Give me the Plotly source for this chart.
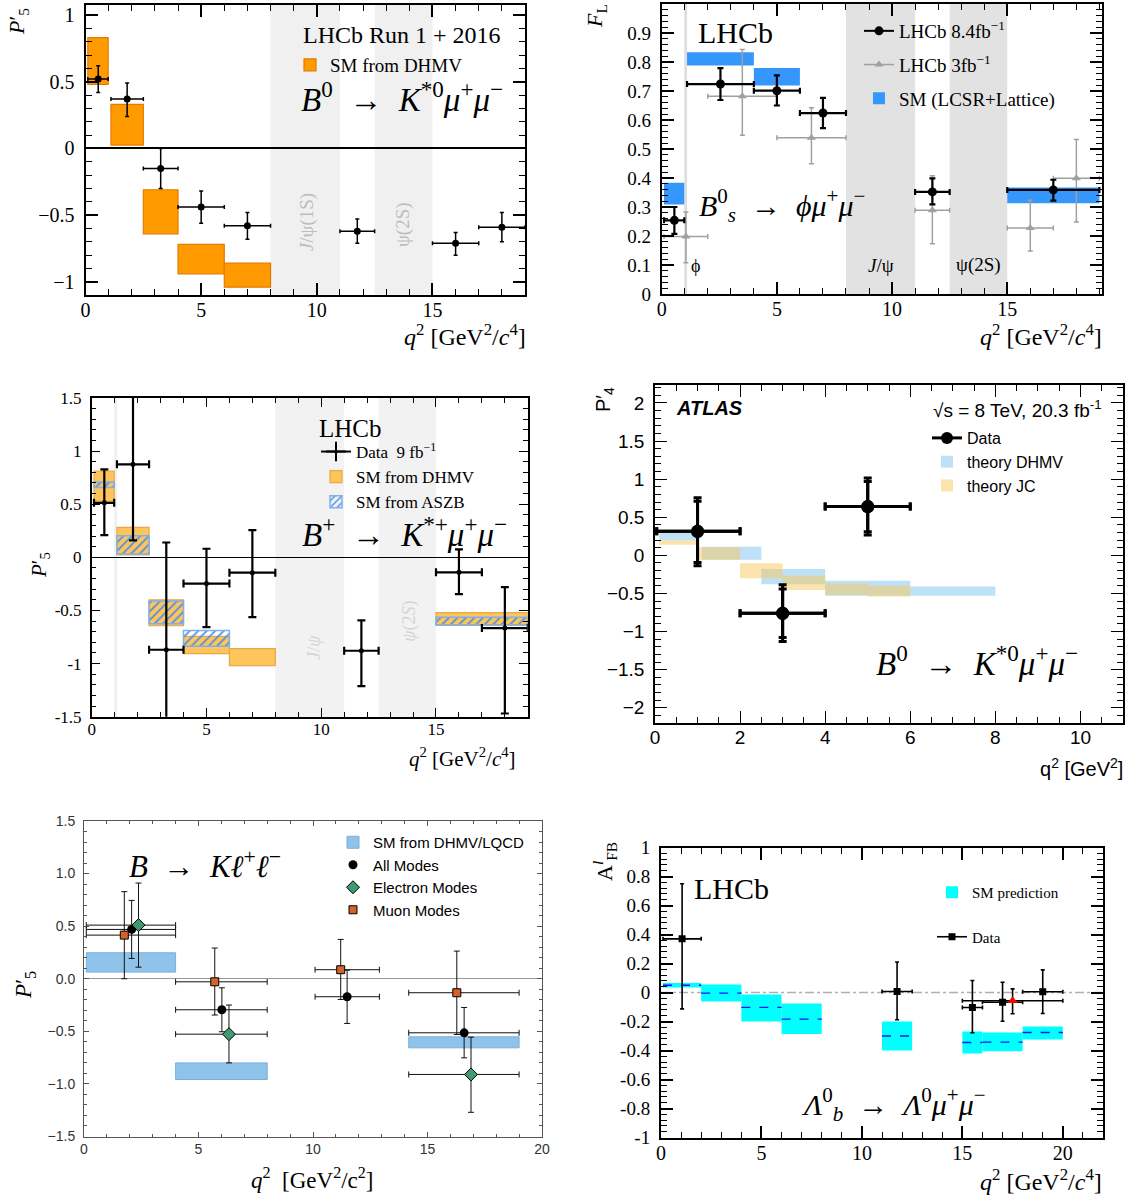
import plotly.graph_objects as go

W, H = 1131, 1195
SERIF = "Liberation Serif"
SANS = "Liberation Sans"
ARROW = "\u2002→\u2002"

# ======================= DATA =======================
# Panel 1 : LHCb P5' (Run 1 + 2016), B0 -> K*0 mu mu
p1_sm_lo = [0.1, 1.1, 2.5, 4.0, 6.0]
p1_sm_hi = [0.98, 2.5, 4.0, 6.0, 8.0]
p1_sm_min = [0.48, 0.025, -0.64, -0.94, -1.04]
p1_sm_max = [0.83, 0.33, -0.31, -0.72, -0.86]
p1_q2 = [0.55, 1.8, 3.25, 5.0, 7.0, 11.75, 16.0, 18.0]
p1_lo = [0.1, 1.1, 2.5, 4.0, 6.0, 11.0, 15.0, 17.0]
p1_hi = [0.98, 2.5, 4.0, 6.0, 8.0, 12.5, 17.0, 19.0]
p1_val = [0.52, 0.37, -0.15, -0.44, -0.58, -0.62, -0.71, -0.59]
p1_up = [0.10, 0.12, 0.15, 0.12, 0.10, 0.09, 0.08, 0.11]
p1_dn = [0.10, 0.13, 0.15, 0.12, 0.10, 0.09, 0.09, 0.11]

veto_phi = [0.98, 1.1]
veto_jpsi = [8.0, 11.0]
veto_psi2s = [12.5, 15.0]

# Panel 2 : LHCb F_L, Bs -> phi mu mu
p2_sm_lo = [0.1, 1.1, 4.0, 15.0]
p2_sm_hi = [0.98, 4.0, 6.0, 19.0]
p2_sm_min = [0.309, 0.788, 0.719, 0.313]
p2_sm_max = [0.384, 0.834, 0.779, 0.367]
p2a_q2 = [0.55, 2.55, 5.0, 7.0, 11.75, 17.0]
p2a_lo = [0.1, 1.1, 4.0, 6.0, 11.0, 15.0]
p2a_hi = [0.98, 4.0, 6.0, 8.0, 12.5, 19.0]
p2a_val = [0.254, 0.724, 0.701, 0.624, 0.352, 0.359]
p2a_up = [0.046, 0.055, 0.053, 0.052, 0.047, 0.035]
p2a_dn = [0.047, 0.055, 0.051, 0.052, 0.043, 0.037]
p2b_q2 = [1.05, 3.5, 6.5, 11.75, 16.0, 18.0]
p2b_lo = [0.1, 2.0, 5.0, 11.0, 15.0, 17.0]
p2b_hi = [2.0, 5.0, 8.0, 12.5, 17.0, 19.0]
p2b_val = [0.198, 0.682, 0.539, 0.289, 0.228, 0.399]
p2b_up = [0.085, 0.161, 0.103, 0.119, 0.095, 0.134]
p2b_dn = [0.090, 0.135, 0.090, 0.116, 0.080, 0.151]
p2_yticks = [0, 0.1, 0.2, 0.3, 0.4, 0.5, 0.6, 0.7, 0.8, 0.9, 1.0]
p2_ylabels = ["0", "0.1", "0.2", "0.3", "0.4", "0.5", "0.6", "0.7", "0.8", "0.9", "1"]

# Panel 3 : LHCb P5', B+ -> K*+ mu mu
p3_dh_lo = [0.1, 1.1, 2.5, 4.0, 6.0, 15.0]
p3_dh_hi = [0.98, 2.5, 4.0, 6.0, 8.0, 19.0]
p3_dh_min = [0.529, 0.022, -0.644, -0.907, -1.02, -0.64]
p3_dh_max = [0.813, 0.282, -0.40, -0.744, -0.86, -0.52]
p3_as_lo = [0.1, 1.1, 2.5, 4.0, 15.0]
p3_as_hi = [0.98, 2.5, 4.0, 6.0, 19.0]
p3_as_min = [0.657, 0.031, -0.625, -0.838, -0.635]
p3_as_max = [0.71, 0.203, -0.41, -0.688, -0.563]
p3_q2 = [0.55, 1.8, 3.25, 5.0, 7.0, 11.75, 16.0, 18.0]
p3_lo = [0.1, 1.1, 2.5, 4.0, 6.0, 11.0, 15.0, 17.0]
p3_hi = [0.98, 2.5, 4.0, 6.0, 8.0, 12.5, 17.0, 19.0]
p3_val = [0.513, 0.876, -0.87, -0.247, -0.144, -0.879, -0.141, -0.666]
p3_up = [0.316, 0.70, 1.01, 0.328, 0.40, 0.285, 0.216, 0.386]
p3_dn = [0.303, 0.716, 0.75, 0.41, 0.419, 0.334, 0.206, 0.804]
p3_yticks = [-1.5, -1, -0.5, 0, 0.5, 1, 1.5]
p3_ylabels = ["-1.5", "-1", "-0.5", "0", "0.5", "1", "1.5"]

# Panel 4 : ATLAS P4'
p4_q2 = [1.0, 3.0, 5.0]
p4_lo = [0.04, 2.0, 4.0]
p4_hi = [2.0, 4.0, 6.0]
p4_val = [0.315, -0.76, 0.64]
p4_tot_up = [0.44, 0.375, 0.375]
p4_tot_dn = [0.45, 0.37, 0.373]
p4_stat_up = [0.394, 0.32, 0.33]
p4_stat_dn = [0.407, 0.317, 0.33]
p4_dh_lo = [0.1, 1.1, 2.5, 4.0, 6.0]
p4_dh_hi = [0.98, 2.5, 4.0, 6.0, 8.0]
p4_dh_min = [0.20, -0.057, -0.38, -0.53, -0.53]
p4_dh_max = [0.30, 0.114, -0.18, -0.333, -0.41]
p4_jc_lo = [0.1, 1.0, 2.0, 3.0, 4.0, 5.0]
p4_jc_hi = [1.0, 2.0, 3.0, 4.0, 5.0, 6.0]
p4_jc_min = [0.14, -0.057, -0.30, -0.455, -0.52, -0.54]
p4_jc_max = [0.20, 0.105, -0.105, -0.267, -0.37, -0.40]

# Panel 5 : Belle P5'
p5_sm_lo = [0.1, 4.0, 14.18]
p5_sm_hi = [4.0, 8.0, 19.0]
p5_sm_min = [0.063, -0.958, -0.657]
p5_sm_max = [0.247, -0.80, -0.552]
p5_all_q2 = [2.08, 6.02, 11.49, 16.6]
p5_all_lo = [0.1, 4.0, 10.09, 14.18]
p5_all_hi = [4.0, 8.0, 12.9, 19.0]
p5_all_val = [0.469, -0.295, -0.171, -0.514]
p5_all_up = [0.276, 0.209, 0.253, 0.241]
p5_all_dn = [0.276, 0.209, 0.254, 0.238]
p5_el_q2 = [2.38, 6.33, 16.9]
p5_el_lo = [0.1, 4.0, 14.18]
p5_el_hi = [4.0, 8.0, 19.0]
p5_el_val = [0.51, -0.527, -0.91]
p5_el_up = [0.40, 0.277, 0.355]
p5_el_dn = [0.40, 0.273, 0.36]
p5_mu_q2 = [1.76, 5.71, 11.21, 16.28]
p5_mu_lo = [0.1, 4.0, 10.09, 14.18]
p5_mu_hi = [4.0, 8.0, 12.9, 19.0]
p5_mu_val = [0.415, -0.029, 0.086, -0.133]
p5_mu_up = [0.413, 0.321, 0.288, 0.396]
p5_mu_dn = [0.415, 0.316, 0.283, 0.397]

# Panel 6 : LHCb A_FB^l, Lambda_b
p6_sm_lo = [0.1, 2.0, 4.0, 6.0, 11.0, 15.0, 16.0, 18.0]
p6_sm_hi = [2.0, 4.0, 6.0, 8.0, 12.5, 16.0, 18.0, 20.0]
p6_sm_min = [0.035, -0.062, -0.20, -0.287, -0.40, -0.42, -0.405, -0.324]
p6_sm_max = [0.065, 0.055, -0.014, -0.076, -0.20, -0.269, -0.276, -0.234]
p6_sm_mid = [0.05, -0.005, -0.103, -0.184, -0.30, -0.345, -0.342, -0.276]
p6_q2 = [1.05, 11.75, 15.5, 17.0, 19.0]
p6_lo = [0.1, 11.0, 15.0, 16.0, 18.0]
p6_hi = [2.0, 12.5, 16.0, 18.0, 20.0]
p6_val = [0.37, 0.007, -0.103, -0.067, 0.005]
p6_up = [0.38, 0.203, 0.186, 0.138, 0.151]
p6_dn = [0.483, 0.195, 0.175, 0.131, 0.15]
p6w_q2 = [17.5]
p6w_lo = [15.0]
p6w_hi = [20.0]
p6w_val = [-0.057]
p6w_up = [0.082]
p6w_dn = [0.09]
p6_yticks = [-1, -0.8, -0.6, -0.4, -0.2, 0, 0.2, 0.4, 0.6, 0.8, 1]
p6_ylabels = ["-1", "-0.8", "-0.6", "-0.4", "-0.2", "0", "0.2", "0.4", "0.6", "0.8", "1"]


# ======================= HELPERS =======================
def px(v):
    return v / W


def py(v):
    return 1 - v / H


def boxes(lo, hi, ymin, ymax, xa, ya, color, lcolor=None, lw=0, name=None,
          legend="legend", showlegend=False, pattern=None, group=None, rank=1):
    marker = dict(color=color, line=dict(color=lcolor or color, width=lw))
    if pattern:
        marker["pattern"] = pattern
    return go.Bar(
        x=[(a + b) / 2 for a, b in zip(lo, hi)],
        y=[t - b for b, t in zip(ymin, ymax)],
        base=ymin,
        width=[b - a for a, b in zip(lo, hi)],
        xaxis=xa, yaxis=ya, marker=marker, name=name,
        showlegend=showlegend, legend=legend, legendgroup=group,
        legendrank=rank, hoverinfo="skip")


def points(x, lo, hi, val, up, dn, xa, ya, symbol, size, color, ecolor,
           lw, cap, mline=None, name=None, legend="legend", showlegend=False,
           group=None, rank=1):
    return go.Scatter(
        x=x, y=val, mode="markers", xaxis=xa, yaxis=ya,
        marker=dict(symbol=symbol, size=size, color=color,
                    line=mline or dict(width=0)),
        error_x=dict(type="data", symmetric=False,
                     array=[h - v for h, v in zip(hi, x)],
                     arrayminus=[v - l for v, l in zip(x, lo)],
                     color=ecolor, thickness=lw, width=cap),
        error_y=dict(type="data", symmetric=False, array=up, arrayminus=dn,
                     color=ecolor, thickness=lw, width=cap),
        name=name, showlegend=showlegend, legend=legend, legendgroup=group,
        legendrank=rank, hoverinfo="skip")


def legend_entry(xa, ya, name, legend, group, rank, mode, marker, line):
    return go.Scatter(x=[None], y=[None], xaxis=xa, yaxis=ya, mode=mode,
                      marker=marker, line=line, name=name, legend=legend,
                      legendgroup=group, legendrank=rank, showlegend=True)


def axis(l, r, rng, anchor, font, size, dtick=None, minor=None, tickvals=None,
         ticktext=None, lw=2, color="black", ticklen=12, minorlen=6,
         tickwidth=1.5, standoff=None, tickformat=None, fontcolor="black",
         horizontal=True):
    if horizontal:
        dom = [px(l), px(r)]
        if standoff is None:
            standoff = -4
    else:
        dom = [py(r), py(l)]
        if standoff is None:
            standoff = 5
    d = dict(domain=dom, range=rng, anchor=anchor, showline=True,
             linecolor=color, linewidth=lw, mirror="allticks",
             ticks="inside", ticklen=ticklen, tickwidth=tickwidth,
             tickcolor=color, showgrid=False, zeroline=False,
             automargin=False,
             tickfont=dict(family=font, size=size, color=fontcolor),
             ticklabelstandoff=standoff, fixedrange=True,
             minor=dict(ticks="inside", ticklen=minorlen,
                        tickwidth=max(1, tickwidth - 0.3), tickcolor=color,
                        dtick=minor, tick0=0, showgrid=False))
    if tickvals is not None:
        d.update(tickmode="array", tickvals=tickvals, ticktext=ticktext)
    else:
        d.update(dtick=dtick, tick0=0)
    if tickformat:
        d["tickformat"] = tickformat
    return d


def ann(text, x, y, size, family=SERIF, color="black", xanchor="left",
        yanchor="middle", angle=0, xref="paper", yref="paper"):
    return dict(text=text,
                x=px(x) if xref == "paper" else x,
                y=py(y) if yref == "paper" else y,
                xref=xref, yref=yref, showarrow=False, textangle=angle,
                font=dict(size=size, family=family, color=color),
                xanchor=xanchor, yanchor=yanchor)


def band(xa, ya, rng, color):
    return dict(type="rect", xref=xa, yref=ya + " domain", x0=rng[0],
                x1=rng[1], y0=0, y1=1, fillcolor=color,
                line=dict(width=0), layer="below")


QTITLE = "<i>q</i><sup>2</sup> [GeV<sup>2</sup>/<i>c</i><sup>4</sup>]"
traces = []
shapes = []
annots = []

# ======================= PANEL 1 =======================
shapes += [band("x", "y", veto_jpsi, "#f0f0f0"),
           band("x", "y", veto_psi2s, "#f0f0f0")]
traces.append(boxes(p1_sm_lo, p1_sm_hi, p1_sm_min, p1_sm_max, "x", "y",
                    "#ff9a00", "#e27c00", 1.2, name="SM from DHMV",
                    legend="legend", showlegend=True))
traces.append(points(p1_q2, p1_lo, p1_hi, p1_val, p1_up, p1_dn, "x", "y",
                     "circle", 7, "black", "black", 1.5, 2))
annots += [
    ann("LHCb Run 1 + 2016", 301, 35, 24),
    ann("<i>B</i><sup>0</sup>" + ARROW + "<i>K</i><sup>*0</sup><i>μ</i><sup>+</sup><i>μ</i><sup>−</sup>",
        505, 97, 33, xanchor="right"),
    ann("<i>J</i>/ψ(1S)", 9.55, -0.55, 19, color="#bdbdbd", xanchor="center",
        angle=-90, xref="x", yref="y"),
    ann("ψ(2S)", 13.75, -0.57, 19, color="#bdbdbd", xanchor="center",
        angle=-90, xref="x", yref="y"),
    ann("<i>P</i>′<sub>5</sub>", 18, 22, 22, xanchor="center", angle=-90),
    ann(QTITLE, 528, 335, 24, xanchor="right"),
]

# ======================= PANEL 2 =======================
shapes += [band("x2", "y2", veto_phi, "#dedede"),
           band("x2", "y2", veto_jpsi, "#e2e2e2"),
           band("x2", "y2", veto_psi2s, "#e2e2e2")]
traces.append(boxes(p2_sm_lo, p2_sm_hi, p2_sm_min, p2_sm_max, "x2", "y2",
                    "#3597fb", name="SM (LCSR+Lattice)", legend="legend2",
                    showlegend=True, group="sm2", rank=3))
traces.append(points(p2b_q2, p2b_lo, p2b_hi, p2b_val, p2b_up, p2b_dn, "x2",
                     "y2", "triangle-up", 8, "#a0a0a0", "#a0a0a0", 1.5, 2.5))
traces.append(points(p2a_q2, p2a_lo, p2a_hi, p2a_val, p2a_up, p2a_dn, "x2",
                     "y2", "circle", 9, "black", "black", 2.2, 3))
traces.append(legend_entry("x2", "y2", "LHCb 8.4fb<sup>−1</sup>", "legend2",
                           "a2", 1, "lines+markers",
                           dict(symbol="circle", size=9, color="black"),
                           dict(color="black", width=2)))
traces.append(legend_entry("x2", "y2", "LHCb 3fb<sup>−1</sup>", "legend2",
                           "b2", 2, "lines+markers",
                           dict(symbol="triangle-up", size=8, color="#a0a0a0"),
                           dict(color="#a0a0a0", width=1.5)))
annots += [
    ann("LHCb", 696, 33, 30),
    ann("<i>B</i><sup>0</sup><sub><i>s</i></sub>" + ARROW + "<i>ϕμ</i><sup>+</sup><i>μ</i><sup>−</sup>",
        697, 206, 30),
    ann("ϕ", 1.45, 0.095, 18, xanchor="center", xref="x2", yref="y2"),
    ann("<i>J</i>/ψ", 9.5, 0.1, 19, xanchor="center", xref="x2", yref="y2"),
    ann("ψ(2S)", 13.75, 0.1, 19, xanchor="center", xref="x2", yref="y2"),
    ann("<i>F</i><sub>L</sub>", 596, 16, 22, xanchor="center", angle=-90),
    ann(QTITLE, 1104, 335, 24, xanchor="right"),
]

# ======================= PANEL 3 =======================
shapes += [band("x3", "y3", veto_phi, "#f0f0f0"),
           band("x3", "y3", veto_jpsi, "#f2f2f2"),
           band("x3", "y3", veto_psi2s, "#f2f2f2")]
traces.append(boxes(p3_dh_lo, p3_dh_hi, p3_dh_min, p3_dh_max, "x3", "y3",
                    "#fdc55c", "#e9a844", 1.2, name="SM from DHMV",
                    legend="legend3", showlegend=True, group="dh3", rank=2))
traces.append(boxes(p3_as_lo, p3_as_hi, p3_as_min, p3_as_max, "x3", "y3",
                    "#4d8fe6", "#7eb0ee", 1.5, name="SM from ASZB",
                    legend="legend3", showlegend=True, group="as3", rank=3,
                    pattern=dict(shape="/", size=6, solidity=0.3,
                                 fillmode="replace")))
traces.append(points(p3_q2, p3_lo, p3_hi, p3_val, p3_up, p3_dn, "x3", "y3",
                     "circle", 5, "black", "black", 2.2, 4))
traces.append(legend_entry("x3", "y3", "Data  9 fb<sup>−1</sup>", "legend3",
                           "d3", 1, "lines+markers",
                           dict(symbol="cross-thin", size=14, color="black",
                                line=dict(color="black", width=2)),
                           dict(color="black", width=2)))
annots += [
    ann("LHCb", 317, 428, 25),
    ann("<i>B</i><sup>+</sup>" + ARROW + "<i>K</i><sup>*+</sup><i>μ</i><sup>+</sup><i>μ</i><sup>−</sup>",
        509, 532, 33, xanchor="right"),
    ann("<i>J</i>/<i>ψ</i>", 9.65, -0.85, 18, color="#d4d4d4",
        xanchor="center", angle=-90, xref="x3", yref="y3"),
    ann("<i>ψ</i>(2<i>S</i>)", 13.85, -0.6, 18, color="#d4d4d4",
        xanchor="center", angle=-90, xref="x3", yref="y3"),
    ann("<i>P</i>′<sub>5</sub>", 40, 565, 21, xanchor="center", angle=-90),
    ann("<i>q</i><sup>2</sup> [GeV<sup>2</sup>/<i>c</i><sup>4</sup>]", 518, 757,
        21, xanchor="right"),
]

# ======================= PANEL 4 =======================
traces.append(boxes(p4_dh_lo, p4_dh_hi, p4_dh_min, p4_dh_max, "x4", "y4",
                    "rgba(125,195,240,0.5)", name="theory DHMV",
                    legend="legend4", showlegend=True, group="dh4", rank=2))
traces.append(boxes(p4_jc_lo, p4_jc_hi, p4_jc_min, p4_jc_max, "x4", "y4",
                    "rgba(245,200,90,0.5)", name="theory JC",
                    legend="legend4", showlegend=True, group="jc4", rank=3))
traces.append(points(p4_q2, p4_lo, p4_hi, p4_val, p4_tot_up, p4_tot_dn, "x4",
                     "y4", "circle", 13, "black", "black", 3, 4))
traces.append(points(p4_q2, p4_lo, p4_hi, p4_val, p4_stat_up, p4_stat_dn,
                     "x4", "y4", "circle", 13, "black", "black", 3, 4))
traces.append(legend_entry("x4", "y4", "Data", "legend4", "d4", 1,
                           "lines+markers",
                           dict(symbol="circle", size=12, color="black"),
                           dict(color="black", width=3)))
annots += [
    ann("<b><i>ATLAS</i></b>", 674, 408, 20, family=SANS),
    ann("√s = 8 TeV, 20.3 fb<sup>-1</sup>", 1104, 409, 19, family=SANS,
        xanchor="right"),
    ann("<i>B</i><sup>0</sup>" + ARROW + "<i>K</i><sup>*0</sup><i>μ</i><sup>+</sup><i>μ</i><sup>−</sup>",
        1080, 661, 33, xanchor="right"),
    ann("P′<sub>4</sub>", 604, 400, 20, family=SANS, xanchor="center",
        angle=-90),
    ann("q<sup>2</sup> [GeV<sup>2</sup>]", 1125, 767, 20, family=SANS,
        xanchor="right"),
]

# ======================= PANEL 5 =======================
traces.append(boxes(p5_sm_lo, p5_sm_hi, p5_sm_min, p5_sm_max, "x5", "y5",
                    "#8fc3ea", "#78b0dc", 1, name="SM from DHMV/LQCD",
                    legend="legend5", showlegend=True, group="sm5", rank=1))
traces.append(points(p5_all_q2, p5_all_lo, p5_all_hi, p5_all_val, p5_all_up,
                     p5_all_dn, "x5", "y5", "circle", 9, "black", "#111111",
                     1, 3, name="All Modes", legend="legend5",
                     showlegend=True, group="a5", rank=2))
traces.append(points(p5_el_q2, p5_el_lo, p5_el_hi, p5_el_val, p5_el_up,
                     p5_el_dn, "x5", "y5", "diamond", 10, "#3f9a72", "#111111",
                     1, 3, mline=dict(color="black", width=1),
                     name="Electron Modes", legend="legend5",
                     showlegend=True, group="e5", rank=3))
traces.append(points(p5_mu_q2, p5_mu_lo, p5_mu_hi, p5_mu_val, p5_mu_up,
                     p5_mu_dn, "x5", "y5", "square", 8, "#d4622a", "#111111",
                     1, 3, mline=dict(color="black", width=1),
                     name="Muon Modes", legend="legend5",
                     showlegend=True, group="m5", rank=4))
annots += [
    ann("<i>B</i>" + ARROW + "<i>Kℓ</i><sup>+</sup><i>ℓ</i><sup>−</sup>", 127, 864, 31),
    ann("<i>P</i>′<sub>5</sub>", 25, 985, 23, xanchor="center", angle=-90),
    ann("<i>q</i><sup>2</sup>  [GeV<sup>2</sup>/c<sup>2</sup>]", 312, 1178, 23,
        xanchor="center"),
]

# ======================= PANEL 6 =======================
traces.append(boxes(p6_sm_lo, p6_sm_hi, p6_sm_min, p6_sm_max, "x6", "y6",
                    "#00ffff", name="SM prediction", legend="legend6",
                    showlegend=True, group="sm6", rank=1))
mid_x, mid_y = [], []
for a, b, c in zip(p6_sm_lo, p6_sm_hi, p6_sm_mid):
    mid_x += [a, b, None]
    mid_y += [c, c, None]
traces.append(go.Scatter(x=mid_x, y=mid_y, xaxis="x6", yaxis="y6",
                         mode="lines", showlegend=False, hoverinfo="skip",
                         line=dict(color="#1010ff", width=1.3, dash="dash")))
traces.append(points(p6_q2, p6_lo, p6_hi, p6_val, p6_up, p6_dn, "x6", "y6",
                     "square", 7, "black", "black", 1.6, 2))
traces.append(points(p6w_q2, p6w_lo, p6w_hi, p6w_val, p6w_up, p6w_dn, "x6",
                     "y6", "triangle-up", 9, "red", "black", 1.6, 2))
traces.append(legend_entry("x6", "y6", "Data", "legend6", "d6", 2,
                           "lines+markers",
                           dict(symbol="square", size=7, color="black"),
                           dict(color="black", width=1.6)))
shapes.append(dict(type="line", xref="x6 domain", yref="y6", x0=0, x1=1,
                   y0=0, y1=0, line=dict(color="#b0b0b0", width=1.3,
                                         dash="dashdot"), layer="below"))
annots += [
    ann("LHCb", 692, 888, 30),
    ann("<i>Λ</i><sup>0</sup><sub><i>b</i></sub>" + ARROW + "<i>Λ</i><sup>0</sup><i>μ</i><sup>+</sup><i>μ</i><sup>−</sup>",
        893, 1104, 30, xanchor="center"),
    ann("A<sup><i>l</i></sup><sub>FB</sub>", 604, 862, 22, xanchor="center",
        angle=-90),
    ann(QTITLE, 1104, 1180, 24, xanchor="right"),
]

# ======================= LAYOUT =======================
fig = go.Figure(traces)

xa1 = axis(85.5, 525, [0, 19], "y", SERIF, 20, dtick=5, minor=1)
ya1 = axis(5, 294.5, [-1.095, 1.075], "x", SERIF, 20, dtick=0.5, minor=0.1,
           horizontal=False)
ya1.update(zeroline=True, zerolinecolor="black", zerolinewidth=1.5)

xa2 = axis(661.7, 1101.7, [0, 19.1], "y2", SERIF, 20, dtick=5, minor=1)
ya2 = axis(4, 294, [0, 1], "x2", SERIF, 19, minor=0.02, tickvals=p2_yticks,
           ticktext=p2_ylabels, horizontal=False)

xa3 = axis(91.7, 527.8, [0, 19], "y3", SERIF, 17, dtick=5, minor=1, lw=1.5,
           ticklen=9, minorlen=5, tickwidth=1.2)
ya3 = axis(398, 716.7, [-1.5, 1.5], "x3", SERIF, 17, minor=0.1,
           tickvals=p3_yticks, ticktext=p3_ylabels, lw=1.5, ticklen=9,
           minorlen=5, tickwidth=1.2, horizontal=False)
ya3.update(zeroline=True, zerolinecolor="black", zerolinewidth=1)

xa4 = axis(655, 1123, [0, 11], "y4", SANS, 19, dtick=2, minor=0.5, lw=1.5,
           ticklen=12, minorlen=6, tickwidth=1.2)
ya4 = axis(385, 723, [-2.2, 2.236], "x4", SANS, 19, dtick=0.5, minor=0.1,
           lw=1.5, ticklen=12, minorlen=6, tickwidth=1.2, horizontal=False)

xa5 = axis(84, 542, [0, 20], "y5", SANS, 14, dtick=5, minor=1, lw=1,
           color="#555555", ticklen=5, minorlen=3, tickwidth=1,
           fontcolor="#333333", standoff=0)
ya5 = axis(821, 1136.5, [-1.5, 1.5], "x5", SANS, 14, dtick=0.5, minor=0.1,
           lw=1, color="#555555", ticklen=5, minorlen=3, tickwidth=1,
           fontcolor="#333333", tickformat=".1f", horizontal=False)
ya5.update(zeroline=True, zerolinecolor="#999999", zerolinewidth=1)

xa6 = axis(661, 1103, [0, 22], "y6", SERIF, 20, dtick=5, minor=1)
ya6 = axis(847.5, 1137.5, [-1, 1], "x6", SERIF, 19, minor=0.04,
           tickvals=p6_yticks, ticktext=p6_ylabels, horizontal=False)


def leg(x, y, size, family=SERIF, gap=0):
    return dict(x=px(x), y=py(y), xanchor="left", yanchor="top",
                bgcolor="rgba(0,0,0,0)", borderwidth=0,
                font=dict(family=family, size=size, color="black"),
                traceorder="grouped", tracegroupgap=gap, itemclick=False,
                itemdoubleclick=False)


fig.update_layout(
    width=W, height=H, margin=dict(l=0, r=0, t=0, b=0, autoexpand=False),
    paper_bgcolor="white", plot_bgcolor="white", barmode="overlay",
    showlegend=True,
    xaxis=xa1, yaxis=ya1, xaxis2=xa2, yaxis2=ya2, xaxis3=xa3, yaxis3=ya3,
    xaxis4=xa4, yaxis4=ya4, xaxis5=xa5, yaxis5=ya5, xaxis6=xa6, yaxis6=ya6,
    legend=leg(290, 46, 19),
    legend2=leg(859, 12, 19, gap=6),
    legend3=leg(316, 434, 17, gap=0),
    legend4=leg(927, 421, 16, family=SANS, gap=0),
    legend5=leg(333, 826, 15, family=SANS, gap=0),
    legend6=leg(932, 876, 15, gap=22),
    shapes=shapes, annotations=annots,
)

fig.write_html("out.html")
